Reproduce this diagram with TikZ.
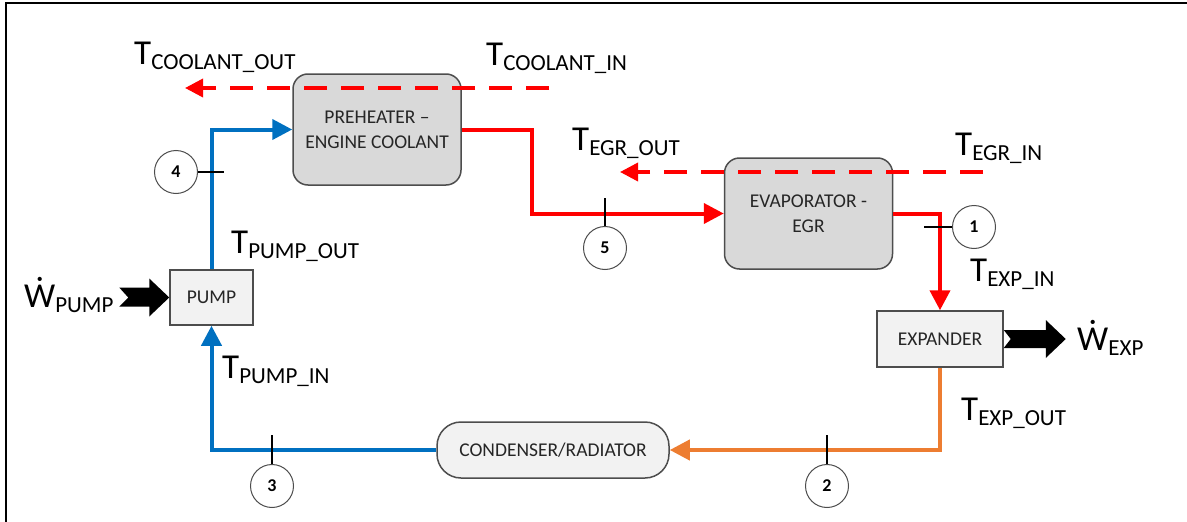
\documentclass[tikz,border=0pt]{standalone}
\usepackage{fontspec}
\setmainfont{Carlito}
\usetikzlibrary{arrows.meta}

\definecolor{pipeblue}{HTML}{0070C0}
\definecolor{pipered}{HTML}{FF0000}
\definecolor{pipeorange}{HTML}{ED7D31}
\definecolor{hxfill}{HTML}{D9D9D9}
\definecolor{unitfill}{HTML}{F2F2F2}
\definecolor{boxline}{HTML}{4D4D4D}
\definecolor{boxtext}{HTML}{262626}

\tikzset{
	hxbox/.style={draw=boxline, line width=1.5pt, fill=hxfill, rounded corners=15pt,
		minimum width=168, minimum height=111, align=center, text=boxtext,
		font=\fontsize{19.5}{25}\selectfont},
	unitbox/.style={draw=boxline, line width=1.5pt, fill=unitfill, align=center,
		text=boxtext, font=\fontsize{19.5}{25}\selectfont},
	statept/.style={circle, draw=boxline, line width=1pt, fill=white, minimum size=43,
		inner sep=0pt, font=\fontsize{18}{20}\selectfont\bfseries},
	pipe/.style={line width=4pt, -{Triangle[length=20pt,width=20pt]}},
	gasline/.style={pipered, line width=3.5pt, dash pattern=on 23pt off 14pt,
		-{Triangle[length=18pt,width=18pt]}},
	tick/.style={line width=1.5pt},
	templab/.style={inner sep=0pt, anchor=base west, font=\fontsize{35}{40}\selectfont},
}
\newcommand{\tsub}[1]{T\raisebox{-5pt}{\fontsize{23}{26}\selectfont #1}}
\newcommand{\wdot}{\accent"02D9 W}
\newcommand{\wsub}[1]{\wdot\raisebox{-5pt}{\fontsize{23}{26}\selectfont #1}}

\begin{document}
\begin{tikzpicture}[x=1pt, y=-1pt]
	\useasboundingbox (0,0) rectangle (1187,522);
	\draw[line width=2.5pt] (6,522) -- (6,3) -- (1187,3);

	% components
	\node[hxbox] (preheater) at (377,129.5) {PREHEATER –\\ENGINE COOLANT};
	\node[hxbox] (evaporator) at (808.5,213.5) {EVAPORATOR -\\EGR};
	\node[unitbox, minimum width=83, minimum height=55] (pump) at (211.5,297.5) {PUMP};
	\node[unitbox, minimum width=126, minimum height=56] (expander) at (940,339) {EXPANDER};
	\node[unitbox, rounded corners=24pt, minimum width=232, minimum height=56] (condenser) at (553,450) {CONDENSER/RADIATOR};

	% working fluid loop
	\draw[pipe, pipeblue] (condenser.west) -| (pump.south);
	\draw[pipe, pipeblue] (pump.north) |- (preheater.west);
	\draw[pipe, pipered] (preheater.east) -- ++(70,0) |- (evaporator.west);
	\draw[pipe, pipered] (evaporator.east) -| (expander.north);
	\draw[pipe, pipeorange] (expander.south) |- (condenser.east);

	% heat source streams
	\coordinate (coolin) at (549,88);
	\coordinate (coolout) at (185,88);
	\coordinate (egrin) at (983,172);
	\coordinate (egrout) at (620,172);
	\draw[gasline] (coolin) -- (coolout);
	\draw[gasline] (egrin) -- (egrout);

	% work arrows
	\begin{scope}[shift={(pump.west)}]
		\fill (0,0) -- (-20,-19) -- (-20,-10) -- (-50,-10) -- (-41,0) -- (-50,9) -- (-20,9) -- (-20,19) -- cycle;
	\end{scope}
	\begin{scope}[shift={(expander.east)}]
		\fill (0,-9) -- (42,-9) -- (42,-19) -- (62,0) -- (42,19) -- (42,9) -- (0,9) -- (7,0) -- cycle;
	\end{scope}

	% state points
	\node[statept] (s1) at (974,227) {1};
	\node[statept] (s2) at (827,486) {2};
	\node[statept] (s3) at (272,486) {3};
	\node[statept] (s4) at (176,172) {4};
	\node[statept] (s5) at (605,248) {5};
	\draw[tick] (s1.west) -- ++(-28,0);
	\draw[tick] (s2.north) -- ++(0,-29);
	\draw[tick] (s3.north) -- ++(0,-29);
	\draw[tick] (s4.east) -- ++(26,0);
	\draw[tick] (s5.north) -- ++(0,-28);

	% temperatures and work
	\node[templab] (tcoolout) at (134,64) {\tsub{COOLANT\_OUT}};
	\node[templab] (tcoolin) at (486,65) {\tsub{COOLANT\_IN}};
	\node[templab] (tegrout) at (572,150) {\tsub{EGR\_OUT}};
	\node[templab] (tegrin) at (955,155) {\tsub{EGR\_IN}};
	\node[templab] (tpumpout) at (231,253) {\tsub{PUMP\_OUT}};
	\node[templab] (tpumpin) at (222,378) {\tsub{PUMP\_IN}};
	\node[templab] (texpin) at (970,281) {\tsub{EXP\_IN}};
	\node[templab] (texpout) at (961,420) {\tsub{EXP\_OUT}};
	\node[templab] (wpump) at (24,307) {\wsub{PUMP}};
	\node[templab] (wexp) at (1077,350) {\wsub{EXP}};
\end{tikzpicture}
\end{document}
